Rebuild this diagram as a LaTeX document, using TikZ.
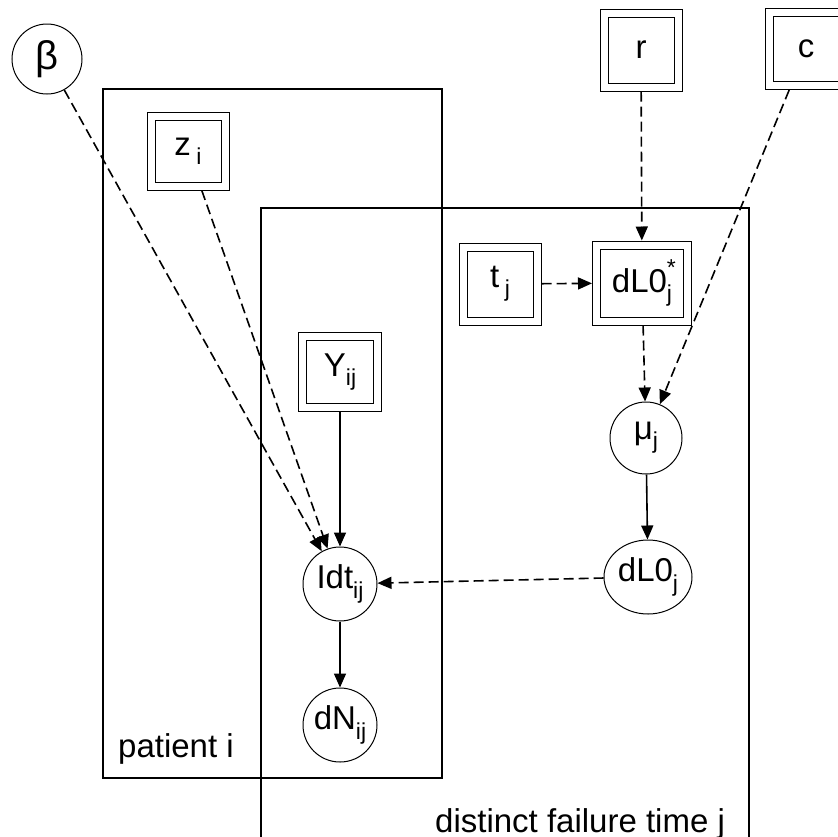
\documentclass[tikz,border=0pt]{standalone}
\usepackage{fontspec}
\setmainfont{Liberation Sans}
\usetikzlibrary{arrows.meta,shapes.geometric}
% lowered subscript and raised superscript in the node font
\newcommand{\sbs}[1]{\raisebox{-0.28em}{\fontsize{23}{23}\selectfont #1}}
\newcommand{\sps}[1]{\raisebox{0.5em}{\fontsize{23}{23}\selectfont #1}}

\begin{document}
\begin{tikzpicture}[x=1pt,y=-1pt,
  every node/.style={font=\fontsize{33}{40}\selectfont, inner sep=0pt},
  rv/.style={draw, circle, line width=1pt, minimum size=72pt},
  oval/.style={draw, ellipse, line width=1pt, minimum width=88pt, minimum height=74pt},
  fixed/.style={draw, rectangle, double, double distance=7pt, line width=1pt,
                outer sep=4.5pt, minimum width=74pt, minimum height=74pt},
  link/.style={line width=1.6pt, -{Triangle[length=14pt,width=12pt]}},
  dep/.style={link, dash pattern=on 10pt off 5pt},
  plate/.style={line width=1.3pt}
]
\useasboundingbox (0,0) rectangle (838,836);
\clip (0,0) rectangle (838,836);

% plates
\draw[plate] (103,89) rectangle (442,778);
\draw[plate] (261,208) rectangle (749,900);
\node[anchor=base west] (labI) at (118,757) {patient i};
\node[anchor=base west] (labJ) at (435,832) {distinct failure time j};

% variables
\node[rv, minimum size=70pt, font=\fontsize{40}{44}\selectfont] (beta) at (47,59) {β};
\node[fixed, minimum height=70pt] (z) at (188,151) {z\,\sbs{i}};
\node[fixed] (r) at (641,50) {r};
\node[fixed, minimum height=73pt] (c) at (806,49) {c};
\node[fixed] (t) at (500,284) {t\,\sbs{j}};
\node[fixed, minimum width=91pt, minimum height=76pt] (dLs) at (642,283) {dL0\rlap{\sps{*}}\sbs{j}};
\node[fixed, minimum width=75pt, minimum height=71pt] (Y) at (340,372) {Y\sbs{ij}};
\node[rv] (mu) at (646,438) {μ\sbs{j}};
\node[oval] (dL0j) at (648,577) {dL0\sbs{j}};
\node[rv, minimum size=74pt] (idt) at (340,584) {Idt\sbs{ij}};
\node[rv, minimum size=74pt] (dN) at (340,725) {dN\sbs{ij}};

% dependencies
\draw[dep] (beta) -- (idt);
\draw[dep] (z) -- (idt);
\draw[dep] (r) -- (dLs);
\draw[dep] (t) -- (dLs);
\draw[dep] (dLs) -- (mu);
\draw[dep] (c) -- (mu);
\draw[link] (mu) -- (dL0j);
\draw[dep] (dL0j) -- (idt);
\draw[link] (Y) -- (idt);
\draw[link] (idt) -- (dN);
\end{tikzpicture}
\end{document}
